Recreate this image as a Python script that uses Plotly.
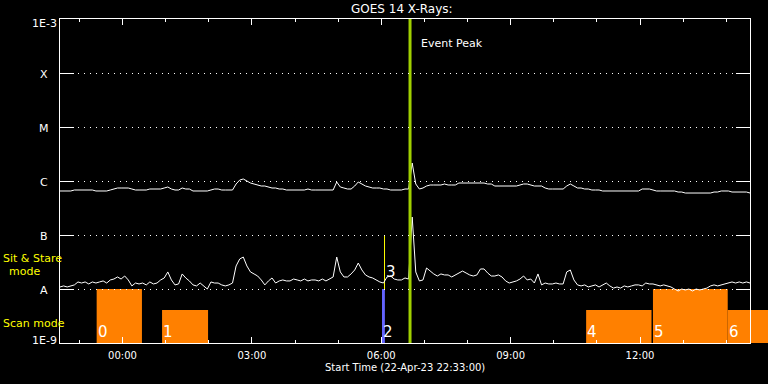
import math
import pandas as pd
import plotly.graph_objects as go

# ---------------- data ----------------
START = pd.Timestamp("2023-04-22 22:33:00")
SPAN_MIN = 960  # plotted time span (minutes)

# GOES long channel (1-8 A), W/m^2, 5-minute samples from START
long_flux = [
    6.53e-7, 6.53e-7, 6.53e-7, 6.53e-7, 6.81e-7, 6.81e-7, 6.81e-7, 6.81e-7, 6.81e-7, 6.81e-7,
    6.53e-7, 6.53e-7, 6.53e-7, 6.53e-7, 6.81e-7, 7.11e-7, 7.42e-7, 7.42e-7, 7.42e-7, 7.42e-7,
    7.11e-7, 6.81e-7, 6.81e-7, 6.81e-7, 6.81e-7, 7.11e-7, 7.11e-7, 7.11e-7, 7.11e-7, 7.42e-7,
    7.74e-7, 7.11e-7, 6.81e-7, 6.81e-7, 7.42e-7, 7.11e-7, 7.11e-7, 6.53e-7, 6.53e-7, 6.53e-7,
    6.53e-7, 6.53e-7, 6.81e-7, 7.11e-7, 7.11e-7, 6.81e-7, 6.81e-7, 6.81e-7, 6.81e-7, 8.80e-7,
    1.04e-6, 1.09e-6, 1.00e-6, 9.18e-7, 8.80e-7, 8.43e-7, 8.08e-7, 8.08e-7, 7.74e-7, 7.42e-7,
    7.42e-7, 7.11e-7, 7.11e-7, 6.81e-7, 6.81e-7, 6.81e-7, 6.81e-7, 6.81e-7, 6.81e-7, 7.11e-7,
    6.81e-7, 6.81e-7, 6.81e-7, 6.81e-7, 6.81e-7, 6.81e-7, 6.81e-7, 9.58e-7, 7.74e-7, 7.42e-7,
    7.11e-7, 7.11e-7, 8.08e-7, 9.58e-7, 8.80e-7, 8.08e-7, 7.74e-7, 7.42e-7, 7.42e-7, 7.42e-7,
    7.11e-7, 7.11e-7, 6.81e-7, 6.81e-7, 6.81e-7, 6.81e-7, 7.11e-7, 7.11e-7, 2.15e-6, 8.80e-7,
    7.11e-7, 7.42e-7, 8.08e-7, 8.43e-7, 8.43e-7, 8.43e-7, 8.43e-7, 8.80e-7, 8.43e-7, 8.43e-7,
    8.43e-7, 9.18e-7, 9.18e-7, 9.18e-7, 9.18e-7, 9.18e-7, 9.18e-7, 9.18e-7, 9.18e-7, 8.80e-7,
    8.80e-7, 8.08e-7, 8.08e-7, 8.08e-7, 8.08e-7, 8.08e-7, 8.08e-7, 8.08e-7, 8.43e-7, 8.80e-7,
    8.80e-7, 8.43e-7, 8.08e-7, 8.08e-7, 8.08e-7, 7.42e-7, 7.11e-7, 7.11e-7, 7.11e-7, 7.11e-7,
    7.11e-7, 8.08e-7, 8.80e-7, 8.08e-7, 7.42e-7, 7.42e-7, 7.11e-7, 7.11e-7, 6.81e-7, 6.81e-7,
    6.81e-7, 6.53e-7, 6.53e-7, 6.53e-7, 6.53e-7, 6.53e-7, 6.53e-7, 6.53e-7, 6.53e-7, 6.53e-7,
    6.53e-7, 6.53e-7, 7.11e-7, 7.11e-7, 7.11e-7, 6.81e-7, 6.53e-7, 6.53e-7, 6.53e-7, 6.53e-7,
    6.53e-7, 6.53e-7, 6.25e-7, 6.25e-7, 5.99e-7, 5.99e-7, 5.99e-7, 5.99e-7, 5.99e-7, 5.99e-7,
    5.99e-7, 5.99e-7, 6.25e-7, 6.25e-7, 6.53e-7, 6.53e-7, 6.53e-7, 6.25e-7, 6.25e-7, 6.25e-7,
    6.25e-7, 6.25e-7, 5.99e-7,
]

# GOES short channel (0.5-4 A), W/m^2, 5-minute samples from START
short_flux = [
    1.09e-8, 1.14e-8, 1.09e-8, 1.14e-8, 1.19e-8, 1.35e-8, 1.29e-8, 1.35e-8, 1.24e-8, 1.35e-8,
    1.29e-8, 1.35e-8, 1.41e-8, 1.29e-8, 1.47e-8, 1.53e-8, 1.67e-8, 1.53e-8, 1.74e-8, 1.47e-8,
    1.14e-8, 1.29e-8, 1.24e-8, 1.29e-8, 1.19e-8, 1.35e-8, 1.24e-8, 1.29e-8, 1.47e-8, 1.60e-8,
    2.07e-8, 1.47e-8, 1.19e-8, 1.24e-8, 1.90e-8, 1.60e-8, 1.41e-8, 1.19e-8, 1.14e-8, 1.29e-8,
    1.14e-8, 1.00e-8, 1.35e-8, 1.29e-8, 1.29e-8, 1.19e-8, 1.14e-8, 1.19e-8, 1.29e-8, 2.67e-8,
    3.59e-8, 3.91e-8, 2.67e-8, 2.07e-8, 1.90e-8, 1.74e-8, 1.47e-8, 1.19e-8, 1.41e-8, 1.60e-8,
    1.29e-8, 1.41e-8, 1.47e-8, 1.41e-8, 1.41e-8, 1.53e-8, 1.47e-8, 1.41e-8, 1.53e-8, 1.41e-8,
    1.47e-8, 1.47e-8, 1.41e-8, 1.53e-8, 1.41e-8, 1.53e-8, 1.67e-8, 3.91e-8, 2.07e-8, 1.67e-8,
    1.67e-8, 1.90e-8, 2.25e-8, 3.03e-8, 2.25e-8, 1.82e-8, 1.67e-8, 1.60e-8, 1.47e-8, 1.35e-8,
    1.29e-8, 1.67e-8, 1.74e-8, 1.53e-8, 1.47e-8, 1.47e-8, 1.60e-8, 1.53e-8, 2.15e-7, 2.07e-8,
    1.41e-8, 1.47e-8, 2.45e-8, 2.15e-8, 1.90e-8, 1.74e-8, 1.90e-8, 1.82e-8, 1.82e-8, 1.67e-8,
    1.82e-8, 1.98e-8, 2.15e-8, 1.98e-8, 1.82e-8, 1.74e-8, 1.82e-8, 2.35e-8, 2.35e-8, 1.98e-8,
    1.74e-8, 1.74e-8, 1.82e-8, 1.67e-8, 1.41e-8, 1.29e-8, 1.35e-8, 1.41e-8, 1.53e-8, 1.74e-8,
    1.47e-8, 1.53e-8, 1.29e-8, 1.90e-8, 1.19e-8, 1.29e-8, 1.24e-8, 1.24e-8, 1.29e-8, 1.24e-8,
    1.24e-8, 2.07e-8, 2.25e-8, 1.47e-8, 1.19e-8, 1.14e-8, 1.19e-8, 1.09e-8, 1.14e-8, 1.19e-8,
    1.09e-8, 1.19e-8, 1.29e-8, 1.14e-8, 1.04e-8, 1.09e-8, 1.04e-8, 1.14e-8, 1.09e-8, 1.14e-8,
    1.19e-8, 1.19e-8, 1.14e-8, 1.29e-8, 1.24e-8, 1.24e-8, 1.19e-8, 1.14e-8, 1.19e-8, 1.14e-8,
    1.09e-8, 1.00e-8, 9.18e-9, 1.00e-8, 9.58e-9, 1.00e-8, 9.18e-9, 1.00e-8, 9.58e-9, 1.00e-8,
    1.04e-8, 1.14e-8, 1.19e-8, 1.14e-8, 1.19e-8, 1.24e-8, 1.29e-8, 1.35e-8, 1.29e-8, 1.35e-8,
    1.29e-8, 1.35e-8, 1.29e-8,
]

times = pd.date_range(START, periods=len(long_flux), freq="5min")

# flare-class axis labels
class_vals = [1e-3, 1e-4, 1e-5, 1e-6, 1e-7, 1e-8, 1e-9]
class_text = ["1E-3", "X", "M", "C", "B", "A", "1E-9"]
grid_vals = [1e-4, 1e-5, 1e-6, 1e-7, 1e-8]

# observing-mode blocks (scan mode / sit & stare)
box_start = ["2023-04-22 23:24", "2023-04-23 00:55", "2023-04-23 06:01",
             "2023-04-23 10:45", "2023-04-23 12:18", "2023-04-23 14:02"]
box_end = ["2023-04-23 00:27", "2023-04-23 01:59", "2023-04-23 06:05",
           "2023-04-23 12:16", "2023-04-23 14:02", "2023-04-23 15:30"]
box_top = [1e-8, 4.1e-9, 1e-8, 4.1e-9, 1e-8, 4.1e-9]
box_color = ["#ff8000", "#ff8000", "#6464ff", "#ff8000", "#ff8000", "#ff8000"]
box_label = ["0", "1", "2", "4", "5", "6"]

stare_time = "2023-04-23 06:04:30"
stare_range = [1e-8, 1e-7]
stare_label = "3"

event_time = "2023-04-23 06:40"
event_label = "Event Peak"

# ---------------- geometry ----------------
W, H = 768, 384
ML, MT, MB = 60, 19, 41
PLOT_W = 690          # width of the framed axes
EXTRA_W = W - ML - PLOT_W  # data area continues to the right image edge
FONT = "DejaVu Sans"
BOTTOM = 1e-9
TOPV = 1e-3

span_end = START + pd.Timedelta(minutes=SPAN_MIN)
ext_end = START + pd.Timedelta(minutes=SPAN_MIN * (PLOT_W + EXTRA_W) / PLOT_W)

fig = go.Figure()

# mode blocks
for s, e, t, c in zip(box_start, box_end, box_top, box_color):
    fig.add_trace(go.Scatter(
        x=[s, s, e, e, s], y=[BOTTOM, t, t, BOTTOM, BOTTOM],
        mode="none", fill="toself", fillcolor=c,
        hoverinfo="skip", showlegend=False))

# sit & stare marker
fig.add_trace(go.Scatter(
    x=[stare_time, stare_time], y=stare_range, mode="lines",
    line=dict(color="#ffff00", width=1), hoverinfo="skip", showlegend=False))

# flux curves
fig.add_trace(go.Scatter(x=times, y=long_flux, mode="lines",
                         line=dict(color="white", width=1), showlegend=False))
fig.add_trace(go.Scatter(x=times, y=short_flux, mode="lines",
                         line=dict(color="white", width=1), showlegend=False))

# event peak line
fig.add_trace(go.Scatter(
    x=[event_time, event_time], y=[BOTTOM, TOPV], mode="lines",
    line=dict(color="#a0d000", width=3), hoverinfo="skip", showlegend=False))

# frame subplot (drawn on top)
fig.add_trace(go.Scatter(x=[], y=[], xaxis="x2", yaxis="y2",
                         showlegend=False, hoverinfo="skip"))

annotations = []
for s, lab in zip(box_start, box_label):
    annotations.append(dict(
        x=s, y=math.log10(BOTTOM), xref="x", yref="y", text=lab,
        xanchor="left", yanchor="bottom", showarrow=False, xshift=-1, yshift=0,
        font=dict(family=FONT, size=15, color="white")))
annotations.append(dict(
    x=stare_time, y=math.log10(stare_range[0]), xref="x", yref="y", text=stare_label,
    xanchor="left", yanchor="middle", showarrow=False, xshift=-1, yshift=17,
    font=dict(family=FONT, size=15, color="white")))

for i, (v, t) in enumerate(zip(class_vals, class_text)):
    shift = -1
    if i == 0:
        shift = -4
    elif i == len(class_vals) - 1:
        shift = 3
    annotations.append(dict(
        x=(44 - ML) / (PLOT_W + EXTRA_W), y=math.log10(v), xref="paper", yref="y2",
        text=t, xanchor="center", yanchor="middle", showarrow=False, yshift=shift,
        font=dict(family=FONT, size=11, color="white")))

plot_h = H - MT - MB
def py(px):
    return (H - MB - px) / plot_h
def pxx(px):
    return (px - ML) / (PLOT_W + EXTRA_W)

annotations += [
    dict(x=pxx(402), y=py(9.5), xref="paper", yref="paper", text="GOES 14 X-Rays:",
         xanchor="center", yanchor="middle", showarrow=False,
         font=dict(family=FONT, size=12, color="white")),
    dict(x=event_time, y=py(43), xref="x", yref="paper", text=event_label,
         xanchor="left", yanchor="middle", showarrow=False, xshift=9,
         font=dict(family=FONT, size=11, color="white")),
    dict(x=pxx(405), y=py(368), xref="paper", yref="paper",
         text="Start Time (22-Apr-23 22:33:00)",
         xanchor="center", yanchor="middle", showarrow=False,
         font=dict(family=FONT, size=10, color="white")),
    dict(x=pxx(1), y=py(258), xref="paper", yref="paper", text="Sit & Stare",
         xanchor="left", yanchor="middle", showarrow=False,
         font=dict(family=FONT, size=11, color="#ffff00")),
    dict(x=pxx(24.5), y=py(271), xref="paper", yref="paper", text="mode",
         xanchor="center", yanchor="middle", showarrow=False,
         font=dict(family=FONT, size=11, color="#ffff00")),
    dict(x=pxx(1), y=py(323.5), xref="paper", yref="paper", text="Scan mode",
         xanchor="left", yanchor="middle", showarrow=False,
         font=dict(family=FONT, size=11, color="#ffff00")),
]

fig.update_layout(
    width=W, height=H,
    margin=dict(l=ML, r=0, t=MT, b=MB, pad=0),
    paper_bgcolor="black", plot_bgcolor="rgba(0,0,0,0)",
    showlegend=False,
    font=dict(family=FONT, color="white"),
    xaxis=dict(type="date", range=[START, ext_end], domain=[0, 1],
               anchor="y", visible=False, fixedrange=True),
    yaxis=dict(type="log", range=[-9, -3], domain=[0, 1],
               anchor="x", visible=False, fixedrange=True),
    xaxis2=dict(type="date", range=[START, span_end],
                domain=[0, PLOT_W / (PLOT_W + EXTRA_W)], anchor="y2",
                showline=True, linecolor="white", linewidth=1, mirror="ticks",
                ticks="inside", ticklen=6, tickcolor="white", tickwidth=1,
                tickmode="linear", tick0="2023-04-23 00:00", dtick=3 * 3600000,
                tickformat="%H:%M", showgrid=False, zeroline=False,
                ticklabelstandoff=3, fixedrange=True,
                tickfont=dict(family=FONT, size=10, color="white"),
                minor=dict(ticks="inside", ticklen=3, tickcolor="white",
                           dtick=3600000, tick0="2023-04-23 00:00", showgrid=False)),
    yaxis2=dict(type="log", range=[-9, -3], domain=[0, 1], anchor="x2",
                showline=True, linecolor="white", linewidth=1, mirror="ticks",
                ticks="inside", ticklen=14, tickcolor="white", tickwidth=1,
                tickmode="array", tickvals=grid_vals, showticklabels=False,
                showgrid=True, gridcolor="white", gridwidth=1, griddash="1px,5px",
                zeroline=False, fixedrange=True),
    annotations=annotations,
)

fig.write_html(
    "out.html",
    config={"displayModeBar": False},
    post_script="document.body.style.margin='0';document.body.style.background='black';",
)
